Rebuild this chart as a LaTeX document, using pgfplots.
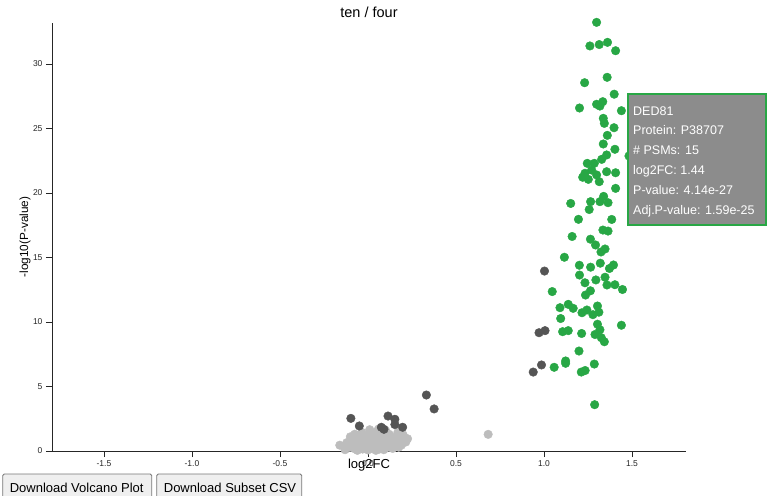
\documentclass[border=0pt]{standalone}
\usepackage{pgfplots}
\pgfplotsset{compat=1.18}
\usepackage{fontspec}
\setmainfont{Liberation Sans}
\definecolor{sig}{HTML}{28A745}
\definecolor{dgray}{HTML}{555555}
\definecolor{lgray}{HTML}{BDBDBD}
\definecolor{tipbg}{HTML}{8C8C8C}
\definecolor{btnbg}{HTML}{EFEFEF}
\definecolor{btnborder}{HTML}{767676}
\begin{document}
\begin{tikzpicture}
\useasboundingbox (-52pt,-44pt) rectangle (715pt,451pt);
\begin{axis}[
  at={(0pt,0pt)}, anchor=south west,
  scale only axis, width=634pt, height=428pt,
  xmin=-1.795, xmax=1.807, ymin=0, ymax=33.18,
  axis x line=bottom, axis y line=left,
  axis line style={-, black!85, line width=0.8pt},
  tick align=outside, major tick length=6pt,
  tick style={black!85, line width=0.8pt},
  xtick={-1.5,-1,-0.5,0,0.5,1,1.5},
  xticklabels={-1.5,-1.0,-0.5,0.0,0.5,1.0,1.5},
  ytick={0,5,10,15,20,25,30},
  yticklabels={0,5,10,15,20,25,30},
  ticklabel style={font=\fontsize{8.5}{10}\selectfont, text=black!85},
  xlabel={log2FC}, ylabel={-log10(P-value)},
  xlabel style={at={(axis description cs:0.5,-0.0327)}, anchor=center, font=\fontsize{13}{15}\selectfont},
  ylabel style={at={(axis description cs:-0.0426,0.5)}, anchor=center, font=\fontsize{11.8}{14}\selectfont},
  title={ten / four},
  title style={at={(axis description cs:0.5,1.0117)}, anchor=center, font=\fontsize{14.5}{16}\selectfont},
  clip=false,
  dot/.style={only marks, mark=*, mark size=4.3pt},
]
\addplot[dot, color=lgray] coordinates {
(-0.160,0.45) (-0.130,0.10) (-0.105,0.30) (-0.090,0.85) (-0.080,0.20) (-0.075,1.30)
(-0.065,0.55) (-0.060,0.05) (-0.050,1.05) (-0.045,0.35) (-0.040,0.70) (-0.035,1.45)
(-0.030,0.15) (-0.025,0.95) (-0.020,0.50) (-0.015,0.25) (-0.010,1.20) (-0.005,0.65)
(0.000,0.08) (0.005,0.40) (0.010,0.90) (0.015,1.35) (0.020,0.20) (0.025,0.60)
(0.030,1.10) (0.035,0.30) (0.040,0.75) (0.045,0.05) (0.050,1.50) (0.055,0.45)
(0.060,0.95) (0.065,0.15) (0.070,0.60) (0.075,1.25) (0.080,0.35) (0.085,0.80)
(0.090,0.10) (0.095,1.05) (0.100,0.50) (0.105,0.25) (0.110,0.85) (0.120,1.30)
(0.125,0.40) (0.130,0.65) (0.135,1.10) (0.140,0.20) (0.150,0.90) (0.160,0.55)
(0.170,1.45) (0.175,0.30) (0.185,1.00) (0.190,0.45) (0.200,1.25) (0.215,0.70)
(0.225,0.95) (-0.120,0.65) (-0.100,1.10) (0.060,1.70) (0.100,1.60) (0.010,1.65)
(0.683,1.29)
};
\addplot[dot, color=dgray] coordinates {
(0.332,4.34) (0.376,3.26) (-0.097,2.53) (-0.049,1.94) (0.114,2.71) (0.153,2.46)
(0.076,1.84) (0.091,1.68) (0.153,2.05) (0.197,1.84)
(1.003,13.95) (0.972,9.17) (1.006,9.33) (0.986,6.67) (0.939,6.12)
};
\addplot[dot, color=sig] coordinates {
(1.299,33.23) (1.261,31.40) (1.314,31.51) (1.361,31.68) (1.407,31.03)
(1.231,28.55) (1.359,28.97) (1.399,27.66) (1.202,26.59) (1.299,26.88)
(1.334,27.08) (1.318,26.74) (1.440,26.38) (1.337,25.79) (1.343,25.40)
(1.398,25.06) (1.360,24.47) (1.337,23.80) (1.403,23.39) (1.483,22.87)
(1.356,22.95) (1.328,22.61) (1.246,22.30) (1.286,22.30) (1.233,21.53)
(1.271,21.78) (1.299,21.40) (1.220,21.22) (1.252,21.06) (1.314,20.88)
(1.356,21.65) (1.407,21.57) (1.407,20.36) (1.152,19.19) (1.265,19.33)
(1.257,18.72) (1.318,19.33) (1.339,19.74) (1.364,19.25) (1.196,17.96)
(1.385,17.95) (1.335,17.13) (1.364,17.05) (1.160,16.63) (1.264,16.42)
(1.293,15.97) (1.347,15.66) (1.324,15.43) (1.116,15.02) (1.201,14.40)
(1.265,14.25) (1.320,14.56) (1.372,14.15) (1.395,14.42) (1.202,13.64)
(1.233,13.04) (1.295,13.26) (1.347,13.47) (1.358,12.87) (1.403,12.89)
(1.446,12.52) (1.047,12.36) (1.264,12.42) (1.236,12.09) (1.091,11.11)
(1.138,11.37) (1.166,11.06) (1.095,10.27) (1.216,10.72) (1.244,10.93)
(1.278,10.57) (1.304,11.24) (1.312,10.76) (1.440,9.75) (1.106,9.25)
(1.138,9.33) (1.214,9.11) (1.304,9.83) (1.318,9.40) (1.290,9.03)
(1.326,8.78) (1.343,8.47) (1.199,7.75) (1.123,6.98) (1.123,6.80)
(1.058,6.49) (1.286,6.74) (1.212,6.12) (1.234,6.24) (1.288,3.59)
};
\end{axis}
% tooltip
\draw[sig, line width=2pt, fill=tipbg] (575.7pt,226pt) rectangle (714pt,357pt);
\begin{scope}[every node/.style={anchor=base west, inner sep=0pt, text=white, font=\fontsize{12.5}{15}\selectfont}]
\node at (581pt,335pt) {DED81};
\node at (581pt,316pt) {Protein: P38707};
\node at (581pt,296pt) {\# PSMs: 15};
\node at (581pt,276pt) {log2FC: 1.44};
\node at (581pt,256pt) {P-value: 4.14e-27};
\node at (581pt,236pt) {Adj.P-value: 1.59e-25};
\end{scope}
% buttons
\draw[btnborder, fill=btnbg, rounded corners=1.5pt, line width=0.8pt] (-49.3pt,-23pt) rectangle (99.7pt,-50pt);
\draw[btnborder, fill=btnbg, rounded corners=1.5pt, line width=0.8pt] (104.7pt,-23pt) rectangle (249.7pt,-50pt);
\node[anchor=base, inner sep=0pt, font=\fontsize{13}{15}\selectfont] at (24.7pt,-41pt) {Download Volcano Plot};
\node[anchor=base, inner sep=0pt, font=\fontsize{13}{15}\selectfont] at (178pt,-41pt) {Download Subset CSV};
\end{tikzpicture}
\end{document}
